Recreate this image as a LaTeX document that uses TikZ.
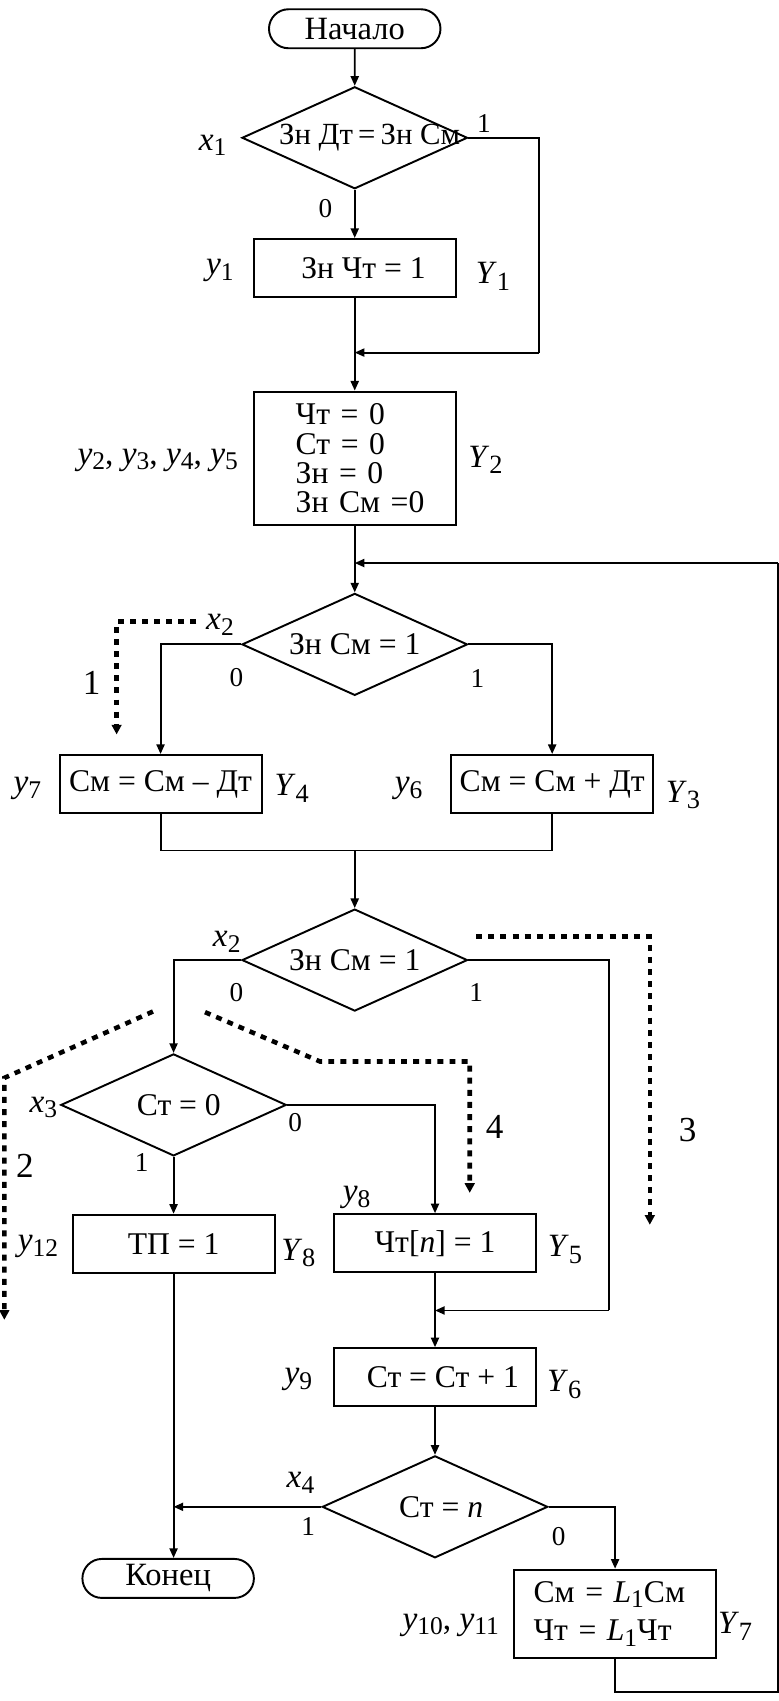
\documentclass[tikz,border=0pt]{standalone}
\usepackage{fontspec}
\setmainfont{Liberation Serif}
\usetikzlibrary{
  arrows.meta,
  positioning,
  shapes.geometric,
  shapes.misc,
  calc,
}
\newcommand{\vsub}[2]{\textit{#1}\raisebox{-3.2pt}{\fontsize{14.5}{14.5}\selectfont #2}}
\newcommand{\Vsub}[2]{\textit{#1}\raisebox{-3.8pt}{\fontsize{15}{15}\selectfont #2}}
\tikzset{
  termbox/.style={
    rounded rectangle, draw, line width=1.1pt, inner sep=0pt,
    minimum width=3.43cm, minimum height=0.78cm,
    font=\fontsize{18.5}{18.5}\selectfont,
  },
  opbox/.style={
    rectangle, draw, line width=1.1pt, inner sep=0pt,
    minimum width=4.04cm, minimum height=1.16cm,
    font=\fontsize{18}{18}\selectfont,
  },
  decision/.style={
    diamond, draw, line width=1.1pt, inner sep=0pt,
    minimum width=4.51cm, minimum height=2.04cm,
    font=\fontsize{18}{18}\selectfont,
  },
  sig/.style={inner sep=0pt, font=\fontsize{19}{19}\selectfont},
  sigY/.style={inner sep=0pt, font=\fontsize{18.5}{18.5}\selectfont},
  branch/.style={inner sep=0pt, font=\fontsize{15.5}{15.5}\selectfont},
  pathNum/.style={inner sep=0pt, font=\fontsize{20}{20}\selectfont},
  lineFlow/.style={line width=1.1pt},
  arrowFlow/.style={-{Triangle[length=5.5pt,width=4.6pt]}, line width=1.1pt},
  arrowTrace/.style={
    -{Triangle[length=5.5pt,width=5.5pt]}, line width=2.6pt,
    dash pattern=on 3.4pt off 3.5pt,
  },
}

\begin{document}
\begin{tikzpicture}[x=0.0217cm, y=-0.0217cm]
\useasboundingbox (0,0) rectangle (718,1568);

% blocks
\node[termbox] (start) at (327,26.5) {Начало};
\node[decision] (ifSign) at (327,127) {%
  \makebox[0pt]{\hspace*{17pt}\fontsize{17.5}{18}\selectfont Зн Дт\,=\,Зн См}%
};
\node[opbox] (setQuot) at (327,247) {\hspace*{10pt}Зн Чт = 1};
\node[opbox, minimum height=2.67cm, text width=2.36cm, align=left,
      font=\fontsize{18}{16.7}\selectfont] (initBox) at (327,422.5) {%
  Чт = 0\\Ст = 0\\Зн = 0\\\mbox{Зн См =0}%
};
\node[decision] (ifSign2) at (327,594) {\makebox[0pt]{Зн См = 1}};
\node[opbox] (subBox) at (148,722.7) {См = См – Дт};
\node[opbox] (addBox) at (509,722.7) {См = См + Дт};
\node[decision] (ifSign3) at (327,885) {\makebox[0pt]{Зн См = 1}};
\node[decision] (ifCnt0) at (160,1018.5) {\makebox[0pt]{\hspace*{6pt}Ст = 0}};
\node[opbox] (setTp) at (160,1146.5) {ТП = 1};
\node[opbox] (setQbit) at (401,1146) {Чт[\textit{n}] = 1};
\node[opbox] (incCnt) at (401,1269.5) {\hspace*{9pt}Ст = Ст + 1};
\node[decision] (ifCntN) at (401,1389) {\makebox[0pt]{\hspace*{7pt}Ст = \textit{n}}};
\node[termbox] (finish) at (155,1455) {Конец};
\node[opbox, minimum height=1.76cm, text width=3.26cm, align=left,
      font=\fontsize{18}{22}\selectfont] (shiftBox) at (567,1487.5) {%
  См = \vsub{L}{1}См\\Чт = \vsub{L}{1}Чт%
};

% bends and joins
\coordinate (joinA) at (327,325);
\coordinate (bypassA) at (497,325);
\coordinate (joinB) at (327,519);
\coordinate (joinC) at (327,784);
\coordinate (bypassD) at (561.5,1208);
\coordinate (joinD) at (401,1208);
\coordinate (joinE) at (160,1389);
\coordinate (loopA) at (567,1560);
\coordinate (loopB) at (717,1560);
\coordinate (loopC) at (717,519);

% flow lines
\draw[arrowFlow] (start) -- (ifSign);
\draw[arrowFlow] (ifSign) -- (setQuot);
\draw[lineFlow] (ifSign.east) -| (bypassA);
\draw[arrowFlow] (bypassA) -- (joinA);
\draw[lineFlow] (setQuot) -- (joinA);
\draw[arrowFlow] (joinA) -- (initBox);
\draw[lineFlow] (initBox) -- (joinB);
\draw[arrowFlow] (joinB) -- (ifSign2);
\draw[arrowFlow] (ifSign2.west) -| (subBox.north);
\draw[arrowFlow] (ifSign2.east) -| (addBox.north);
\draw[lineFlow] (subBox.south) |- (joinC);
\draw[lineFlow] (addBox.south) |- (joinC);
\draw[arrowFlow] (joinC) -- (ifSign3);
\draw[arrowFlow] (ifSign3.west) -| (ifCnt0.north);
\draw[lineFlow] (ifSign3.east) -| (bypassD);
\draw[arrowFlow] (bypassD) -- (joinD);
\draw[arrowFlow] (ifCnt0) -- (setTp);
\draw[arrowFlow] (ifCnt0.east) -| (setQbit.north);
\draw[lineFlow] (setQbit) -- (joinD);
\draw[arrowFlow] (joinD) -- (incCnt);
\draw[arrowFlow] (incCnt) -- (ifCntN);
\draw[arrowFlow] (ifCntN.west) -- (joinE);
\draw[lineFlow] (setTp) -- (joinE);
\draw[arrowFlow] (joinE) -- (joinE |- finish.north);
\draw[arrowFlow] (ifCntN.east) -| (shiftBox.north);
\draw[lineFlow] (shiftBox.south) -- (loopA) -- (loopB) -- (loopC);
\draw[arrowFlow] (loopC) -- (joinB);

% dotted traces
\coordinate (tr1a) at (181,573);
\coordinate (tr1b) at (107.5,573);
\coordinate (tr1c) at (107.5,677);
\coordinate (tr2a) at (141,932.4);
\coordinate (tr2b) at (4,993.6);
\coordinate (tr2c) at (4,1216.6);
\coordinate (tr3a) at (439,863.3);
\coordinate (tr3b) at (599,863.3);
\coordinate (tr3c) at (599,1129);
\coordinate (tr4a) at (189,933);
\coordinate (tr4b) at (295,978.5);
\coordinate (tr4c) at (433,978.5);
\coordinate (tr4d) at (433,1099.6);
\draw[arrowTrace] (tr1a) -- (tr1b) -- (tr1c);
\draw[arrowTrace] (tr2a) -- (tr2b) -- (tr2c);
\draw[arrowTrace] (tr3a) -- (tr3b) -- (tr3c);
\draw[arrowTrace] (tr4a) -- (tr4b) -- (tr4c) -- (tr4d);
\node[pathNum] (num1) at (84.5,629.6) {1};
\node[pathNum] (num2) at (23,1075) {2};
\node[pathNum] (num3) at (634,1041.5) {3};
\node[pathNum] (num4) at (456,1038.4) {4};

% signal labels
\node[sig] (lblX1) at (196,134) {\vsub{x}{1}};
\node[branch] (lblOne1) at (446,113.7) {1};
\node[branch] (lblZero1) at (300,192) {0};
\node[sig] (lblY1) at (202.6,249.5) {\vsub{y}{1}};
\node[sigY] (lblSt1) at (454.4,255) {\Vsub{Y}{1}};
\node[sig] (lblY2) at (145.4,424) {\vsub{y}{2}, \vsub{y}{3}, \vsub{y}{4}, \vsub{y}{5}};
\node[sigY] (lblSt2) at (447.6,424) {\Vsub{Y}{2}};
\node[sig] (lblX2) at (202.8,576) {\vsub{x}{2}};
\node[branch] (lblZero2) at (218,625) {0};
\node[branch] (lblOne2) at (440,625) {1};
\node[sig] (lblY7) at (25.2,727) {\vsub{y}{7}};
\node[sigY] (lblSt4) at (269,727) {\Vsub{Y}{4}};
\node[sig] (lblY6) at (376.6,727) {\vsub{y}{6}};
\node[sigY] (lblSt3) at (629.6,732.7) {\Vsub{Y}{3}};
\node[sig] (lblX2b) at (209,868) {\vsub{x}{2}};
\node[branch] (lblZero3) at (218,915) {0};
\node[branch] (lblOne3) at (439,915) {1};
\node[sig] (lblX3) at (40,1021) {\vsub{x}{3}};
\node[branch] (lblZero4) at (272,1035) {0};
\node[branch] (lblOne4) at (130.6,1072) {1};
\node[sig] (lblY12) at (35,1149) {\vsub{y}{12}};
\node[sigY] (lblSt8) at (275,1155) {\Vsub{Y}{8}};
\node[sig] (lblY8) at (328.7,1104) {\vsub{y}{8}};
\node[sigY] (lblSt5) at (520.7,1152) {\Vsub{Y}{5}};
\node[sig] (lblY9) at (275,1272) {\vsub{y}{9}};
\node[sigY] (lblSt6) at (520,1276.5) {\Vsub{Y}{6}};
\node[sig] (lblX4) at (277,1367) {\vsub{x}{4}};
\node[branch] (lblOne5) at (284,1407) {1};
\node[branch] (lblZero5) at (515,1416) {0};
\node[sig] (lblY10) at (415.5,1498) {\vsub{y}{10}, \vsub{y}{11}};
\node[sigY] (lblSt7) at (677.6,1499) {\Vsub{Y}{7}};

\end{tikzpicture}
\end{document}
